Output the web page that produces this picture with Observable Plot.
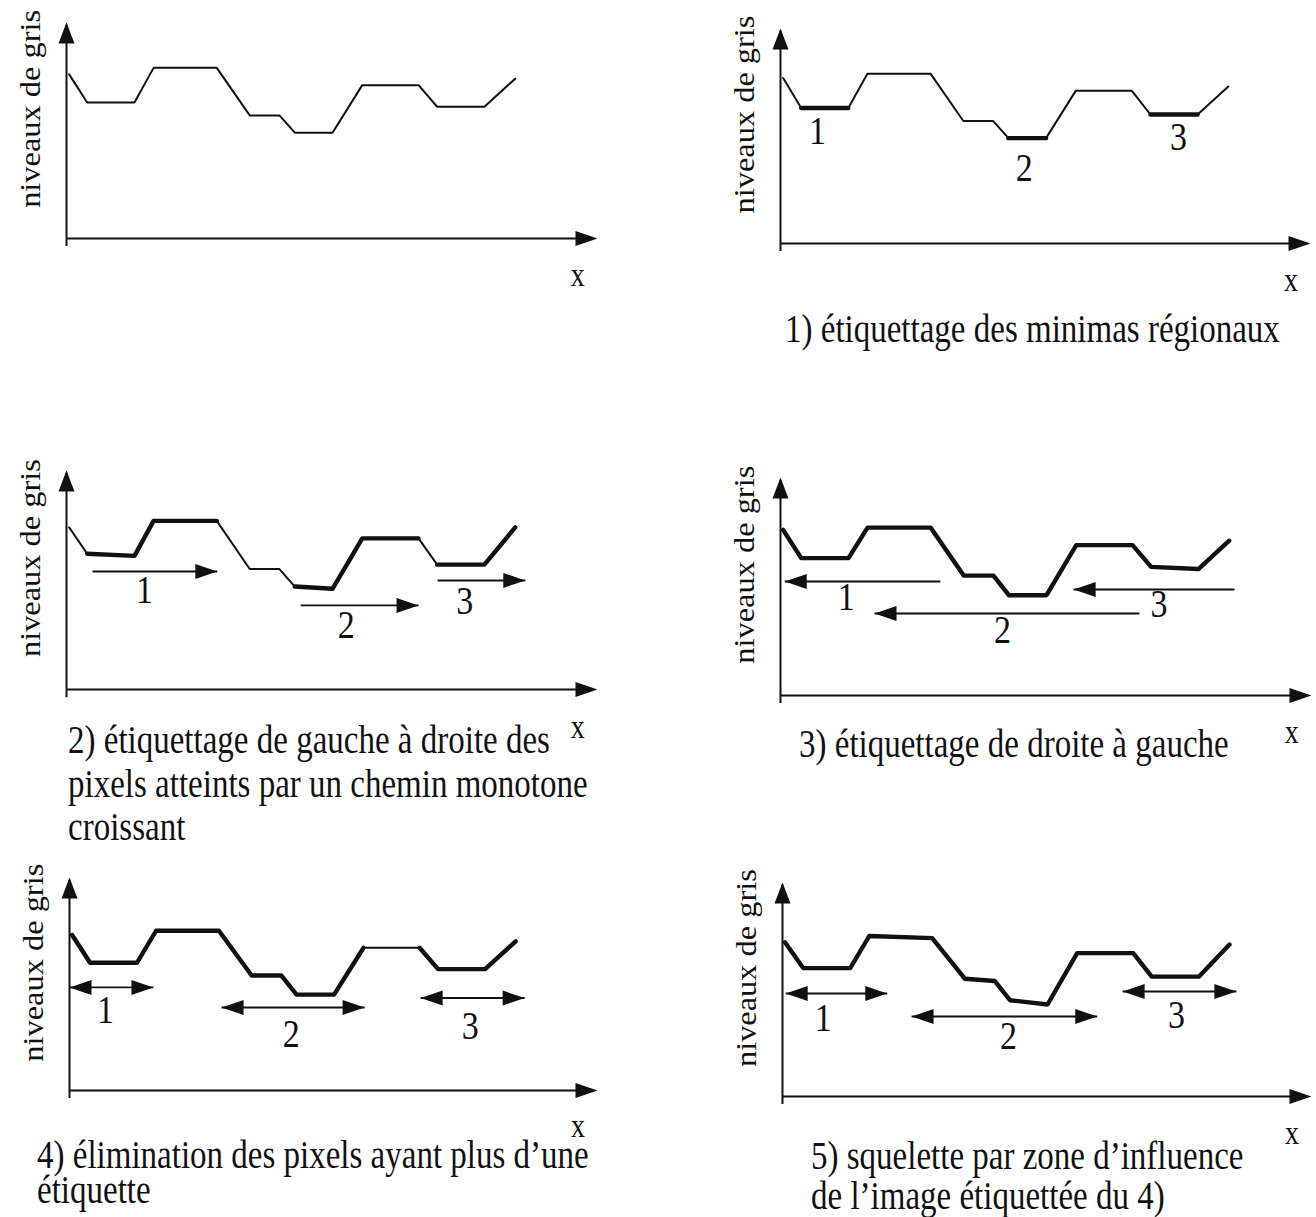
<!DOCTYPE html>
<html lang="fr">
<head>
<meta charset="utf-8">
<script src="https://cdn.jsdelivr.net/npm/d3@7"></script>
<script src="https://cdn.jsdelivr.net/npm/@observablehq/plot@0.6"></script>
<style>
  html, body { margin: 0; padding: 0; background: #fff; }
  #page { position: relative; width: 1316px; height: 1217px; overflow: hidden; background: #fff; }
  .cap { position: absolute; font-family: "Liberation Serif", "Times New Roman", serif; font-size: 33px;
         color: #111; white-space: nowrap; transform-origin: 0 0; transform: scaleY(1.2); }
</style>
</head>
<body>
<div id="page"></div>
<script>
// ---------- data ----------
// positions along x of the profile vertices (x axis runs 0..100 up to its arrow tip)
const profileX = [0.5, 3.9, 12.8, 16.4, 28.3, 34.5, 40.1, 43.0, 50.1, 55.7, 66.3, 69.8, 78.7, 84.5];
// grey level of each vertex, per panel (y axis runs 0..100 up to its arrow tip)
const greyP1 = [76, 63, 63, 79, 79, 57, 57, 49, 49, 71, 71, 61, 61, 74];
const greyP2 = [77, 63, 63, 79, 79, 57, 57, 49, 49, 71, 71, 60, 60, 73];
const greyP3 = [74, 62, 61, 77, 77, 55, 55, 47, 46, 69, 69, 57, 57, 74];
const greyP4 = [76, 63, 63, 77, 77, 55, 55, 46, 46, 69, 69, 59, 58, 71];
const greyP5 = [73, 60, 60, 75, 75, 54, 54, 45, 45, 67, 67, 57, 57, 70];
const greyP6 = [72, 60, 60, 75, 74, 55, 54, 45, 43, 67, 67, 56, 56, 71];
// vertex index ranges drawn in bold
const boldP1 = [];
const boldP2 = [[1, 2], [7, 8], [11, 12]];
const boldP3 = [[1, 4], [7, 10], [11, 13]];
const boldP4 = [[0, 13]];
const boldP5 = [[0, 9], [10, 13]];
const boldP6 = [[0, 13]];
// propagation arrows: from x, to x, grey level
const arrowsP3 = [{from: 4.9, to: 28.4, g: 53.9}, {from: 44.1, to: 66.3, g: 38.4}, {from: 69.9, to: 86.4, g: 49.8}];
const arrowsP4 = [{from: 30.1, to: 0.8, g: 52.3}, {from: 67.6, to: 17.7, g: 37.6}, {from: 85.5, to: 55.2, g: 48.6}];
const arrowsP5 = [{from: 0, to: 15.9, g: 48.4}, {from: 28.8, to: 55.9, g: 39.0}, {from: 66.5, to: 86.2, g: 43.4}];
const arrowsP6 = [{from: 0.6, to: 19.8, g: 48.1}, {from: 24.4, to: 59.5, g: 37.4}, {from: 64.3, to: 85.8, g: 49.1}];
// minimum labels
const labelText = ["1", "2", "3"];
const labelXP2 = [7.0, 46.0, 75.1], labelGP2 = [46.5, 29.3, 43.3];
const labelXP3 = [14.7, 52.7, 75.0], labelGP3 = [39.3, 23.7, 34.7];
const labelXP4 = [12.4, 41.8, 71.3], labelGP4 = [39.0, 24.3, 35.8];
const labelXP5 = [6.8, 42.0, 75.9], labelGP5 = [31.9, 20.2, 24.4];
const labelXP6 = [7.7, 42.7, 74.5], labelGP6 = [30.8, 22.4, 31.8];
// texts
const yTitle = "niveaux de gris";
const xTitle = "x";
const captionP2 = ["1) étiquettage des minimas régionaux"];
const captionP3 = ["2) étiquettage de gauche à droite des", "pixels atteints par un chemin monotone", "croissant"];
const captionP4 = ["3) étiquettage de droite à gauche"];
const captionP5 = ["4) élimination des pixels ayant plus d’une", "étiquette"];
const captionP6 = ["5) squelette par zone d’influence", "de l’image étiquettée du 4)"];

// ---------- layout (pixels) ----------
const frames = [
  {ox: 66,  oy: 238,  L: 531, H: 216},
  {ox: 780, oy: 243,  L: 530, H: 215},
  {ox: 66,  oy: 689,  L: 531, H: 219},
  {ox: 780, oy: 695,  L: 531, H: 218},
  {ox: 69,  oy: 1090, L: 528, H: 213},
  {ox: 782, oy: 1096, L: 529, H: 214}
];
const captionLayout = [
  null,
  {left: 785, base: 343, gap: 40},
  {left: 68,  base: 753, gap: 44},
  {left: 799, base: 758, gap: 40},
  {left: 37,  base: 1169, gap: 35},
  {left: 811, base: 1170, gap: 40}
];

const INK = "#111";
const FONT = "Liberation Serif";

// arrowhead symbols (tip at the point)
function tri(dx, dy, len, half) {
  return {draw(ctx) {
    const bx = -dx * len, by = -dy * len, px = -dy * half, py = dx * half;
    ctx.moveTo(0, 0); ctx.lineTo(bx + px, by + py); ctx.lineTo(bx - px, by - py); ctx.closePath();
  }};
}
const headRight = tri(1, 0, 22, 7.5), headLeft = tri(-1, 0, 22, 7.5);
const axisRight = tri(1, 0, 22, 7.5), axisUp = tri(0, -1, 21, 8);

const panels = [
  {grey: greyP1, bold: boldP1, arrows: [], heads: "none", lx: [], lg: [], caption: []},
  {grey: greyP2, bold: boldP2, arrows: [], heads: "none", lx: labelXP2, lg: labelGP2, caption: captionP2},
  {grey: greyP3, bold: boldP3, arrows: arrowsP3, heads: "end", lx: labelXP3, lg: labelGP3, caption: captionP3},
  {grey: greyP4, bold: boldP4, arrows: arrowsP4, heads: "end", lx: labelXP4, lg: labelGP4, caption: captionP4},
  {grey: greyP5, bold: boldP5, arrows: arrowsP5, heads: "both", lx: labelXP5, lg: labelGP5, caption: captionP5},
  {grey: greyP6, bold: boldP6, arrows: arrowsP6, heads: "both", lx: labelXP6, lg: labelGP6, caption: captionP6}
];

const page = document.getElementById("page");
const padL = 60, padR = 16, padT = 14, padB = 70;

panels.forEach((p, k) => {
  const f = frames[k];
  const rows = profileX.map((x, i) => ({x, g: p.grey[i]}));
  const boldRows = p.bold.flatMap(([a, b], s) => rows.slice(a, b + 1).map(r => ({...r, seg: s})));
  const labels = p.lx.map((x, i) => ({x, g: p.lg[i], t: labelText[i]}));
  const rightHeads = [], leftHeads = [];
  p.arrows.forEach(a => {
    const lo = Math.min(a.from, a.to), hi = Math.max(a.from, a.to);
    if (p.heads === "both") { leftHeads.push({x: lo, g: a.g}); rightHeads.push({x: hi, g: a.g}); }
    else if (p.heads === "end") (a.to > a.from ? rightHeads : leftHeads).push({x: a.to, g: a.g});
  });

  const svg = Plot.plot({
    width: f.L + padL + padR,
    height: f.H + padT + padB,
    marginLeft: padL, marginRight: padR, marginTop: padT, marginBottom: padB,
    x: {domain: [0, 100], axis: null},
    y: {domain: [0, 100], axis: null},
    style: {background: "transparent", overflow: "visible"},
    marks: [
      // axes
      Plot.link([0], {x1: 0, x2: 99, y1: 0, y2: 0, stroke: INK, strokeWidth: 2}),
      Plot.link([0], {x1: 0, x2: 0, y1: -3.5, y2: 99, stroke: INK, strokeWidth: 2}),
      Plot.dot([0], {x: 100, y: 0, r: 1, symbol: axisRight, fill: INK, stroke: "none"}),
      Plot.dot([0], {x: 0, y: 100, r: 1, symbol: axisUp, fill: INK, stroke: "none"}),
      // profile
      Plot.line(rows, {x: "x", y: "g", stroke: INK, strokeWidth: 2, strokeLinejoin: "miter"}),
      Plot.line(boldRows, {x: "x", y: "g", z: "seg", stroke: INK, strokeWidth: 4.4, strokeLinejoin: "round", strokeLinecap: "round"}),
      // arrows
      Plot.link(p.arrows, {x1: "from", x2: "to", y1: "g", y2: "g", stroke: INK, strokeWidth: 1.9}),
      Plot.dot(rightHeads, {x: "x", y: "g", r: 1, symbol: headRight, fill: INK, stroke: "none"}),
      Plot.dot(leftHeads, {x: "x", y: "g", r: 1, symbol: headLeft, fill: INK, stroke: "none"}),
      // labels
      Plot.text(labels, {x: "x", y: "g", text: "t", fontSize: 34, fontFamily: FONT, fill: INK, textAnchor: "middle", lineAnchor: "bottom"}),
      Plot.text([xTitle], {x: 96.3, y: -22, text: d => d, fontSize: 28, fontFamily: FONT, fill: INK, textAnchor: "middle", lineAnchor: "bottom"}),
      Plot.text([yTitle], {x: -5, y: 60, text: d => d, rotate: -90, fontSize: 30, fontFamily: FONT, fill: INK, textAnchor: "middle", lineAnchor: "bottom"})
    ]
  });
  // the scanned figure is stretched vertically: stretch the glyphs the same way
  svg.querySelectorAll("text").forEach(t => {
    const tr = t.getAttribute("transform") || "";
    t.setAttribute("transform", tr + (tr.includes("rotate") ? " scale(1.08,1)" : " scale(1,1.2)"));
  });
  svg.style.position = "absolute";
  svg.style.left = (f.ox - padL) + "px";
  svg.style.top = (f.oy - f.H - padT) + "px";
  svg.style.maxWidth = "none";
  page.appendChild(svg);
});

// captions
panels.forEach((p, k) => {
  const c = captionLayout[k];
  if (!c || !p.caption.length) return;
  const fs = 33, L = c.gap / 1.2;
  const div = document.createElement("div");
  div.className = "cap";
  div.style.left = c.left + "px";
  div.style.lineHeight = L + "px";
  div.style.top = (c.base - 1.2 * ((L - 1.107 * fs) / 2 + 0.891 * fs)) + "px";
  p.caption.forEach((line, i) => {
    if (i) div.appendChild(document.createElement("br"));
    div.appendChild(document.createTextNode(line));
  });
  page.appendChild(div);
});
</script>
</body>
</html>
